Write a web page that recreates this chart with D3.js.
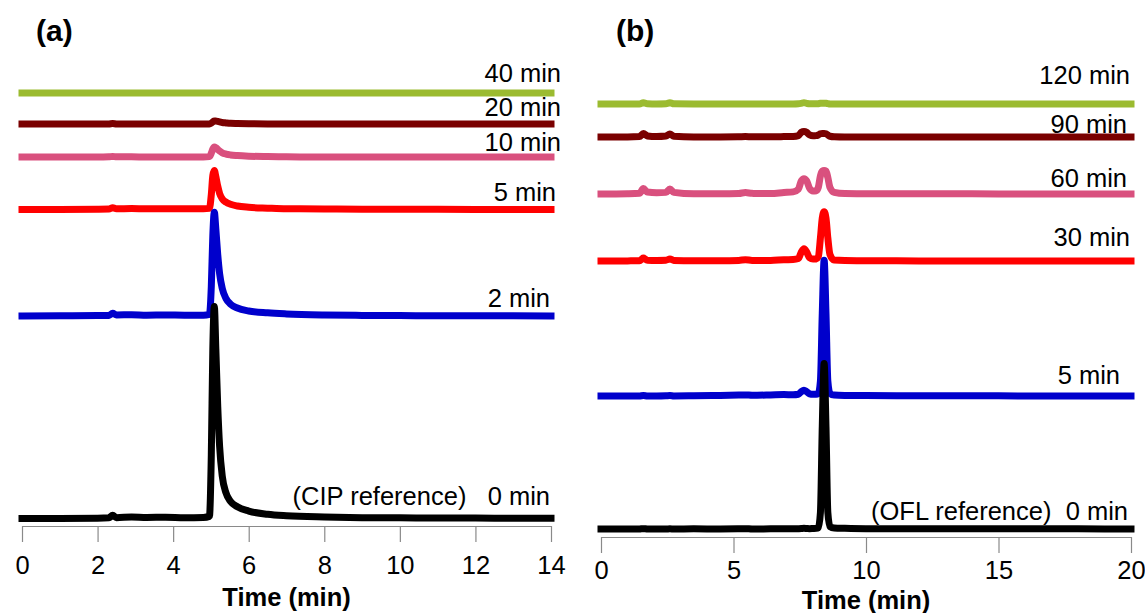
<!DOCTYPE html>
<html>
<head>
<meta charset="utf-8">
<script src="https://cdn.jsdelivr.net/npm/d3@7"></script>
<style>
  html, body { margin: 0; padding: 0; background: #fff; }
  svg { display: block; }
  text { font-family: Arial, "Liberation Sans", sans-serif; }
</style>
</head>
<body>
<svg id="chart" width="1145" height="613"></svg>
<script>
// ---------- Panel (a): CIP chromatograms ----------
const timesA = [0, 1.0, 2.0, 2.3, 2.4, 2.5, 2.9, 3.3, 3.8, 4.3,
                4.8, 4.96, 5.01, 5.05, 5.09, 5.13, 5.18, 5.23, 5.3, 5.4,
                5.52, 5.7, 6.0, 6.5, 7.0, 8.0, 9.0, 10.0, 11.0, 12.0,
                13.0, 14.0];
const cip0  = [0, 0, 0.1, 0.3, 1.5, 0.4, 0.7, 0.5, 0.6, 0.4,
               0.5, 1.0, 30, 80, 100, 80, 53, 34, 20, 12,
               8.0, 5.5, 3.5, 2.0, 1.3, 0.7, 0.4, 0.3, 0.2, 0.2,
               0.1, 0.1];
const cip2  = [0, 0.1, 0.2, 0.3, 1.3, 0.5, 0.6, 0.4, 0.5, 0.4,
               0.4, 0.8, 14, 38, 49, 41, 29, 20, 13, 8.2,
               5.6, 3.8, 2.4, 1.5, 1.0, 0.5, 0.3, 0.2, 0.1, 0.1,
               0.1, 0];
const cip5  = [0, 0, 0.1, 0.2, 0.8, 0.3, 0.4, 0.3, 0.3, 0.3,
               0.3, 0.5, 7, 16, 18.4, 15.5, 11, 7.5, 5.0, 3.4,
               2.4, 1.6, 1.0, 0.6, 0.3, 0.2, 0.1, 0.1, 0.1, 0,
               0, 0];
const cip10 = [0, 0, 0, 0.1, 0.3, 0.1, 0.1, 0, 0, 0,
               0, 0.2, 1.8, 3.8, 4.7, 4.4, 3.6, 2.8, 2.0, 1.4,
               1.0, 0.7, 0.4, 0.2, 0.1, 0, 0, 0, 0, 0,
               0, 0];
const cip20 = [0, 0, 0, 0, 0.2, 0, 0, 0, 0, 0,
               0, 0, 0.4, 1.0, 1.4, 1.4, 1.2, 1.0, 0.7, 0.5,
               0.3, 0.2, 0.1, 0, 0, 0, 0, 0, 0, 0,
               0, 0];
const cip40 = [0, 0, 0, 0, 0, 0, 0, 0, 0, 0,
               0, 0, 0, 0, 0, 0, 0, 0, 0, 0,
               0, 0, 0, 0, 0, 0, 0, 0, 0, 0,
               0, 0];
// vertical stacking offsets (signal units), top trace first
const seriesA   = [cip40, cip20, cip10, cip5, cip2, cip0];
const offsetsA  = [200.7, 186.1, 170.5, 145.8, 95.5, 0];
const labelsA   = ["40 min", "20 min", "10 min", "5 min", "2 min", "(CIP reference)   0 min"];
const ticksA    = [0, 2, 4, 6, 8, 10, 12, 14];

// ---------- Panel (b): OFL chromatograms ----------
const timesB = [0, 1.0, 1.45, 1.6, 1.75, 2.1, 2.45, 2.6, 2.75, 3.5,
                4.5, 5.2, 5.45, 5.7, 6.4, 6.9, 7.25, 7.45, 7.56, 7.66,
                7.76, 7.87, 8.0, 8.12, 8.2, 8.28, 8.35, 8.42, 8.49, 8.56,
                8.64, 8.8, 9.2, 10, 12, 14, 16, 18, 20];
const ofl0   = [0, 0, 0, 0.2, 0, 0, 0, 0.1, 0, 0.1,
                0, 0.1, 0.2, 0, 0.1, 0.2, 0.1, 0.2, 0.3, 0.4,
                0.3, 0.2, 0.3, 0.4, 0.8, 10, 62, 100, 62, 10,
                1.5, 0.6, 0.4, 0.2, 0.2, 0.1, 0.2, 0.1, 0];
const ofl5   = [0, 0, 0, 0.3, 0, 0, 0.1, 0.2, 0, 0.1,
                0.3, 0.5, 0.6, 0.4, 0.6, 0.8, 0.7, 1.0, 2.6, 3.4,
                2.6, 1.3, 1.0, 1.0, 1.4, 9, 50, 82, 50, 9,
                1.5, 0.5, 0.3, 0.2, 0.1, 0.1, 0, 0, 0];
const ofl30  = [0, 0.1, 0.2, 1.8, 0.5, 0.4, 0.5, 1.2, 0.4, 0.2,
                0.2, 0.4, 0.8, 0.4, 0.4, 0.8, 0.9, 1.5, 5.5, 7.5,
                5.5, 2.0, 1.2, 1.3, 2.5, 14, 26, 29.8, 26, 14,
                4, 0.6, 0.3, 0.2, 0.1, 0.1, 0, 0, 0];
const ofl60  = [0, 0.2, 0.5, 3.3, 1.2, 0.8, 1.0, 3.0, 1.0, 0.1,
                0.1, 0.3, 0.9, 0.4, 0.3, 0.9, 1.3, 3.0, 8.0, 9.3,
                8.0, 3.5, 1.8, 2.0, 4.0, 11, 13.8, 14.2, 13.8, 10,
                4, 1.0, 0.3, 0.2, 0.1, 0.1, 0, 0, 0];
const ofl90  = [0, 0, 0.2, 2.0, 0.6, 0.2, 0.5, 1.8, 0.4, 0,
                0, 0.1, 0.2, 0.1, 0.1, 0.2, 0.3, 0.8, 2.8, 3.3,
                2.8, 1.2, 0.7, 0.8, 1.2, 1.9, 2.1, 2.1, 1.9, 1.2,
                0.4, 0.1, 0, 0, 0, 0, 0, 0, 0];
const ofl120 = [0, 0, 0, 0.8, 0.2, 0, 0.1, 0.8, 0.1, 0,
                0, 0, 0, 0, 0, 0, 0, 0.1, 0.4, 0.8,
                0.4, 0.1, 0.1, 0.1, 0.2, 0.4, 0.5, 0.5, 0.4, 0.2,
                0, 0, 0, 0, 0, 0, 0, 0, 0];
const seriesB   = [ofl120, ofl90, ofl60, ofl30, ofl5, ofl0];
const offsetsB  = [256.8, 236.9, 202.4, 161.9, 80.4, 0];
const labelsB   = ["120 min", "90 min", "60 min", "30 min", "5 min", "(OFL reference)  0 min"];
const ticksB    = [0, 5, 10, 15, 20];

// trace colours, top trace first
const traceColors = ["#9bbb30", "#7a0000", "#d9507e", "#ff0000", "#0000cc", "#000000"];

// ---------- layout ----------
const svg = d3.select("#chart");

const panels = [
  {
    times: timesA, series: seriesA, offsets: offsetsA, labels: labelsA, ticks: ticksA,
    x: d3.scaleLinear().domain([0, 14]).range([22, 551]),
    y: d3.scaleLinear().domain([0, 100]).range([518.5, 306.5]),
    axisY: 526, tickPad: 14, titleY: 606, tag: "(a)", tagX: 36,
    labelRight: [561, 561, 561, 556, 550, 550],
    labelY: [73, 107, 142, 192, 298, 496]
  },
  {
    times: timesB, series: seriesB, offsets: offsetsB, labels: labelsB, ticks: ticksB,
    x: d3.scaleLinear().domain([0, 20]).range([601, 1131]),
    y: d3.scaleLinear().domain([0, 100]).range([529, 363.5]),
    axisY: 537, tickPad: 8, titleY: 609, tag: "(b)", tagX: 616,
    labelRight: [1130, 1127, 1127, 1130, 1120, 1128],
    labelY: [75, 124, 178, 237, 375, 511]
  }
];

const labelFont = 25.5;

panels.forEach(p => {
  const g = svg.append("g");

  // chromatogram traces, drawn top to bottom so lower traces sit above
  p.series.forEach((vals, i) => {
    const pts = p.times.map((t, k) => [t, vals[k] + p.offsets[i]]);
    const line = d3.line()
      .x(d => p.x(d[0]))
      .y(d => p.y(d[1]))
      .curve(d3.curveMonotoneX);
    g.append("path")
      .datum(pts)
      .attr("d", line)
      .attr("fill", "none")
      .attr("stroke", traceColors[i])
      .attr("stroke-width", 7)
      .attr("stroke-linejoin", "round")
      .attr("stroke-linecap", "square");
  });

  // trace labels
  p.labels.forEach((lab, i) => {
    g.append("text")
      .attr("x", p.labelRight[i])
      .attr("y", p.labelY[i] + labelFont * 0.36)
      .attr("text-anchor", "end")
      .attr("font-size", labelFont)
      .attr("fill", "#000")
      .style("white-space", "pre")
      .text(lab);
  });

  // time axis
  const axis = d3.axisBottom(p.x)
    .tickValues(p.ticks)
    .tickFormat(d3.format("d"))
    .tickSize(16)
    .tickSizeOuter(0)
    .tickPadding(p.tickPad);
  const ag = g.append("g")
    .attr("transform", `translate(0,${p.axisY})`)
    .call(axis);
  ag.select(".domain").attr("stroke", "#8a8a8a").attr("stroke-width", 1.2);
  ag.selectAll(".tick line").attr("stroke", "#8a8a8a").attr("stroke-width", 1.2);
  ag.selectAll(".tick text")
    .attr("font-size", 25.5)
    .attr("font-family", "Arial, 'Liberation Sans', sans-serif")
    .attr("fill", "#000");

  // axis title
  const xMid = (p.x.range()[0] + p.x.range()[1]) / 2;
  g.append("text")
    .attr("x", xMid)
    .attr("y", p.titleY)
    .attr("text-anchor", "middle")
    .attr("font-size", 25.5)
    .attr("font-weight", "bold")
    .text("Time (min)");

  // panel tag
  g.append("text")
    .attr("x", p.tagX)
    .attr("y", 41)
    .attr("font-size", 30)
    .attr("font-weight", "bold")
    .text(p.tag);
});
</script>
</body>
</html>
